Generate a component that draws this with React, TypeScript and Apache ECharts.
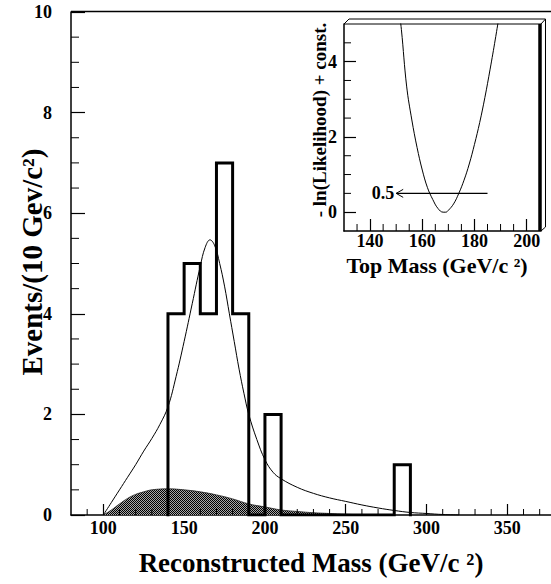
import React, { useEffect, useRef } from "react";
import * as echarts from "echarts";

// ---- Main histogram: data events per 10 GeV bin ----
const histBinEdges = [140, 150, 160, 170, 180, 190, 200, 210, 220, 230, 240, 250, 260, 270, 280, 290];
const histCounts = [4, 5, 4, 7, 4, 0, 2, 0, 0, 0, 0, 0, 0, 0, 1];

// ---- Fit curve (signal + background) ----
const fitMass = [100, 105, 110, 115, 120, 125, 130, 135, 140, 145, 150, 155, 160, 163, 166, 169, 172, 175, 178, 181, 184, 187, 190, 195, 200, 205, 210, 220, 230, 240, 250, 260, 270, 280, 290, 300, 310, 320];
const fitValue = [0, 0.25, 0.5, 0.75, 1.0, 1.27, 1.52, 1.8, 2.15, 2.75, 3.45, 4.2, 4.95, 5.32, 5.47, 5.35, 5.0, 4.55, 4.0, 3.45, 2.9, 2.42, 2.0, 1.5, 1.1, 0.85, 0.72, 0.55, 0.43, 0.34, 0.27, 0.2, 0.14, 0.09, 0.05, 0.03, 0.01, 0];

// ---- Background (shaded) ----
const bkgMass = [100, 105, 110, 115, 120, 125, 130, 140, 150, 160, 170, 180, 190, 200, 210, 220, 230, 240, 250, 260, 270];
const bkgValue = [0, 0.1, 0.22, 0.33, 0.41, 0.46, 0.5, 0.52, 0.5, 0.46, 0.4, 0.32, 0.22, 0.16, 0.1, 0.07, 0.045, 0.03, 0.015, 0.005, 0];

// ---- Inset: -ln(Likelihood) vs top mass ----
const lnlMass = [151, 152, 154, 156, 158, 160, 162, 164, 166, 168, 169, 170, 172, 174, 176, 178, 180, 182, 184, 186, 188, 190];
const lnlValue = [5.4, 4.85, 3.35, 2.45, 1.72, 1.12, 0.65, 0.34, 0.1, 0.0, 0.0, 0.05, 0.22, 0.5, 0.85, 1.28, 1.8, 2.38, 3.05, 3.8, 4.6, 5.45];
const arrowLevel = 0.5;
const arrowFrom = 185;
const arrowTo = 150;
const arrowLabel = "0.5";

// ---- Axis ranges and tick values ----
const mainXRange = [80, 377];
const mainYRange = [0, 10];
const insetXRange = [130, 205.5];
const insetYRange = [-0.5, 5];
const mainXMajor = [100, 150, 200, 250, 300, 350];
const mainXMinor = [90, 110, 120, 130, 140, 160, 170, 180, 190, 210, 220, 230, 240, 260, 270, 280, 290, 310, 320, 330, 340, 360, 370];
const mainYMajor = [0, 2, 4, 6, 8, 10];
const mainYMinor = [0.5, 1, 1.5, 2.5, 3, 3.5, 4.5, 5, 5.5, 6.5, 7, 7.5, 8.5, 9, 9.5];
const insetXMajor = [140, 160, 180, 200];
const insetXMinor = [135, 145, 150, 155, 165, 170, 175, 185, 190, 195, 205];
const insetYMajor = [0, 2, 4];
const insetYMinor = [0.5, 1, 1.5, 2.5, 3, 3.5, 4.5];

const mainXTitle = "Reconstructed Mass (GeV/c ²)";
const mainYTitle = "Events/(10 Gev/c²)";
const insetXTitle = "Top Mass (GeV/c ²)";
const insetYTitle = "- ln(Likelihood) + const.";

const FONT = '"Liberation Serif", "Times New Roman", serif';

function buildHistPoints(): number[][] {
  const pts: number[][] = [];
  let prev = 0;
  for (let i = 0; i < histCounts.length; i++) {
    const lo = histBinEdges[i];
    const hi = histBinEdges[i + 1];
    const c = histCounts[i];
    pts.push([lo, prev], [lo, c], [hi, c]);
    prev = c;
  }
  pts.push([histBinEdges[histBinEdges.length - 1], 0]);
  return pts;
}

function zip(a: number[], b: number[]) {
  return a.map((v, i) => [v, b[i]]);
}

// Minor ticks drawn through the axes' own scales (custom series)
function tickSeries(axisIndex: number, data: number[][], dx: number, dy: number) {
  return {
    type: "custom",
    xAxisIndex: axisIndex,
    yAxisIndex: axisIndex,
    coordinateSystem: "cartesian2d",
    silent: true,
    clip: false,
    encode: { x: 0, y: 1 },
    data,
    renderItem: (_p: any, api: any) => {
      const p = api.coord([api.value(0), api.value(1)]);
      return {
        type: "line",
        shape: { x1: p[0], y1: p[1], x2: p[0] + dx, y2: p[1] + dy },
        style: { stroke: "#000", lineWidth: 1 },
      };
    },
    z: 5,
  };
}

export default function App() {
  const ref = useRef<HTMLDivElement>(null);
  useEffect(() => {
    if (!ref.current) return;
    const chart = echarts.init(ref.current, null, { renderer: "svg" });

    let bkgFill: any = "#707070";
    try {
      const c = document.createElement("canvas");
      c.width = 2;
      c.height = 2;
      const ctx = c.getContext("2d");
      if (ctx) {
        ctx.fillStyle = "#a8a8a8";
        ctx.fillRect(0, 0, 2, 2);
        ctx.fillStyle = "#000000";
        ctx.fillRect(0, 0, 1, 1);
        ctx.fillRect(1, 1, 1, 1);
        bkgFill = { image: c, repeat: "repeat" };
      }
    } catch (e) {
      bkgFill = "#707070";
    }

    const labelStyle = (size: number, margin: number, values: number[]) => ({
      show: true,
      customValues: values,
      fontFamily: FONT,
      fontWeight: "bold",
      fontStyle: "normal",
      fontSize: size,
      color: "#000",
      margin,
    });
    const blackLine = (w: number) => ({ show: true, onZero: false, lineStyle: { color: "#000", width: w } });
    const majorTick = (len: number, values: number[]) => ({
      show: true, inside: true, length: len, customValues: values, lineStyle: { color: "#000", width: 1.2 },
    });

    const textEl = (text: string, x: number, y: number, size: number, rotation = 0) => ({
      type: "text",
      x,
      y,
      rotation,
      silent: true,
      style: {
        text,
        font: `bold ${size}px ${FONT}`,
        fill: "#000",
        align: "center",
        verticalAlign: "middle",
        textAlign: "center",
        textVerticalAlign: "middle",
      },
    });
    const lineEl = (x1: number, y1: number, x2: number, y2: number, w = 1) => ({
      type: "line",
      silent: true,
      shape: { x1, y1, x2, y2 },
      style: { stroke: "#000", lineWidth: w },
    });

    const option: any = {
      animation: false,
      backgroundColor: "#fff",
      grid: [
        { left: 71, top: 12, right: 0, bottom: 69 },
        { left: 344, top: 24, width: 197, height: 207 },
      ],
      xAxis: [
        {
          type: "value", gridIndex: 0, min: mainXRange[0], max: mainXRange[1], position: "bottom",
          axisLine: blackLine(1.5),
          axisTick: majorTick(11, mainXMajor),
          axisLabel: labelStyle(18, 4, mainXMajor),
          splitLine: { show: false },
        },
        {
          type: "value", gridIndex: 1, min: insetXRange[0], max: insetXRange[1], position: "bottom",
          axisLine: blackLine(1.5),
          axisTick: majorTick(12, insetXMajor),
          axisLabel: labelStyle(18, 1, insetXMajor),
          splitLine: { show: false },
        },
      ],
      yAxis: [
        {
          type: "value", gridIndex: 0, min: mainYRange[0], max: mainYRange[1], position: "left",
          axisLine: blackLine(1.5),
          axisTick: majorTick(14, mainYMajor),
          axisLabel: labelStyle(18, 19, mainYMajor),
          splitLine: { show: false },
        },
        {
          type: "value", gridIndex: 1, min: insetYRange[0], max: insetYRange[1], position: "left",
          axisLine: blackLine(1.5),
          axisTick: majorTick(12, insetYMajor),
          axisLabel: labelStyle(18, 7, insetYMajor),
          splitLine: { show: false },
        },
      ],
      series: [
        {
          name: "background",
          type: "line",
          xAxisIndex: 0,
          yAxisIndex: 0,
          data: zip(bkgMass, bkgValue),
          smooth: 0.4,
          showSymbol: false,
          symbol: "none",
          lineStyle: { color: "#222", width: 0.8 },
          areaStyle: { color: bkgFill, opacity: 1 },
          z: 1,
        },
        {
          name: "fit",
          type: "line",
          xAxisIndex: 0,
          yAxisIndex: 0,
          data: zip(fitMass, fitValue),
          smooth: 0.4,
          symbol: "none",
          lineStyle: { color: "#000", width: 1 },
          z: 2,
        },
        {
          name: "data",
          type: "line",
          xAxisIndex: 0,
          yAxisIndex: 0,
          data: buildHistPoints(),
          symbol: "none",
          lineStyle: { color: "#000", width: 3, join: "miter", cap: "square" },
          z: 3,
        },
        {
          name: "likelihood",
          type: "line",
          xAxisIndex: 1,
          yAxisIndex: 1,
          data: zip(lnlMass, lnlValue),
          smooth: 0.4,
          symbol: "none",
          clip: true,
          lineStyle: { color: "#000", width: 1 },
          z: 3,
        },
        {
          name: "arrow",
          type: "custom",
          xAxisIndex: 1,
          yAxisIndex: 1,
          coordinateSystem: "cartesian2d",
          data: [[arrowFrom, arrowLevel, arrowTo]],
          encode: { x: [0, 2], y: 1 },
          renderItem: (_params: any, api: any) => {
            const start = api.coord([api.value(0), api.value(1)]);
            const tip = api.coord([api.value(2), api.value(1)]);
            return {
              type: "group",
              children: [
                { type: "line", shape: { x1: start[0], y1: start[1], x2: tip[0], y2: tip[1] }, style: { stroke: "#000", lineWidth: 1.3 } },
                { type: "polyline", shape: { points: [[tip[0] + 7, tip[1] - 4], [tip[0], tip[1]], [tip[0] + 7, tip[1] + 4]] }, style: { stroke: "#000", fill: "none", lineWidth: 1 } },
                { type: "text", x: tip[0] - 2, y: tip[1], style: { text: arrowLabel, font: `bold 18px ${FONT}`, fill: "#000", align: "right", verticalAlign: "middle", textAlign: "right", textVerticalAlign: "middle" } },
              ],
            };
          },
          z: 4,
        },
        tickSeries(0, mainXMinor.map((v) => [v, mainYRange[0]]), 0, -6),
        tickSeries(0, mainYMinor.map((v) => [mainXRange[0], v]), 8, 0),
        tickSeries(1, insetXMinor.map((v) => [v, insetYRange[0]]), 0, -7),
        tickSeries(1, insetYMinor.map((v) => [insetXRange[0], v]), 7, 0),
      ],
      graphic: [
        // main frame top edge
        lineEl(71, 11.5, 551, 11.5, 1.5),
        // inset frame
        lineEl(344, 24, 541, 24, 1),
        lineEl(540, 24, 540, 231, 3.5),
        lineEl(344, 24, 349, 19, 1),
        lineEl(349, 19, 545.5, 19, 1),
        lineEl(545.5, 19, 545.5, 227, 1),
        lineEl(541, 24, 545.5, 19, 1),
        lineEl(541, 231, 545.5, 227, 1),
        // titles
        textEl(mainXTitle, 311, 563, 27),
        textEl(mainYTitle, 32, 262, 29, Math.PI / 2),
        textEl(insetXTitle, 437, 265, 22),
        textEl(insetYTitle, 319, 120, 19, Math.PI / 2),
      ],
    };
    chart.setOption(option);
    return () => chart.dispose();
  }, []);
  return <div ref={ref} style={{ position: "fixed", left: 0, top: 0, width: 551, height: 584 }} />;
}
